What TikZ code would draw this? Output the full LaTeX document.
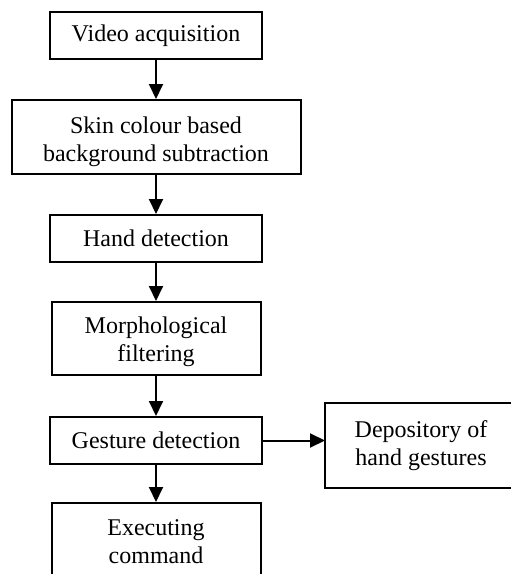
\documentclass[tikz,border=0pt]{standalone}
\usepackage{fontspec}
\setmainfont{Liberation Serif}
\usetikzlibrary{arrows.meta}
\tikzset{every picture/.style={line width=2pt}}
\tikzset{procbox/.style={draw, rectangle, align=center, inner sep=0pt, font=\fontsize{24}{28}\selectfont}}
\tikzset{flow/.style={-{Triangle[length=15pt,width=14pt]}}}

\begin{document}
\begin{tikzpicture}[x=1pt,y=1pt,yscale=-1,xscale=1]
\useasboundingbox (0,0) rectangle (511,574);
\clip (0,0) rectangle (511,574);
% main column
\node [procbox, minimum width=212, minimum height=47] (video) at (156,35.5) {Video acquisition};
\node [procbox, minimum width=289, minimum height=74] (skin) at (156,137) {\rule{0pt}{26pt}Skin colour based\\background subtraction};
\node [procbox, minimum width=212, minimum height=47] (hand) at (156,238.5) {Hand detection};
\node [procbox, minimum width=209, minimum height=73] (morph) at (156,338.5) {\rule{0pt}{24pt}Morphological\\filtering};
\node [procbox, minimum width=212, minimum height=47] (gesture) at (156,440.5) {Gesture detection};
\node [procbox, minimum width=209, minimum height=77] (exec) at (156,541.5) {Executing\\command};
% side box, its right side runs off the page
\node [procbox, draw=none, minimum width=190, minimum height=83] (depo) at (421,445.5) {Depository of\\hand gestures};
\draw (depo.north east) ++(20,0) -- (depo.north west) -- (depo.south west) -- ([xshift=20pt]depo.south east);
% connectors
\draw [flow] (video) -- (skin);
\draw [flow] (skin) -- (hand);
\draw [flow] (hand) -- (morph);
\draw [flow] (morph) -- (gesture);
\draw [flow] (gesture) -- (exec);
\draw [flow] (gesture.east) -- (gesture.east -| depo.west);
\end{tikzpicture}
\end{document}
